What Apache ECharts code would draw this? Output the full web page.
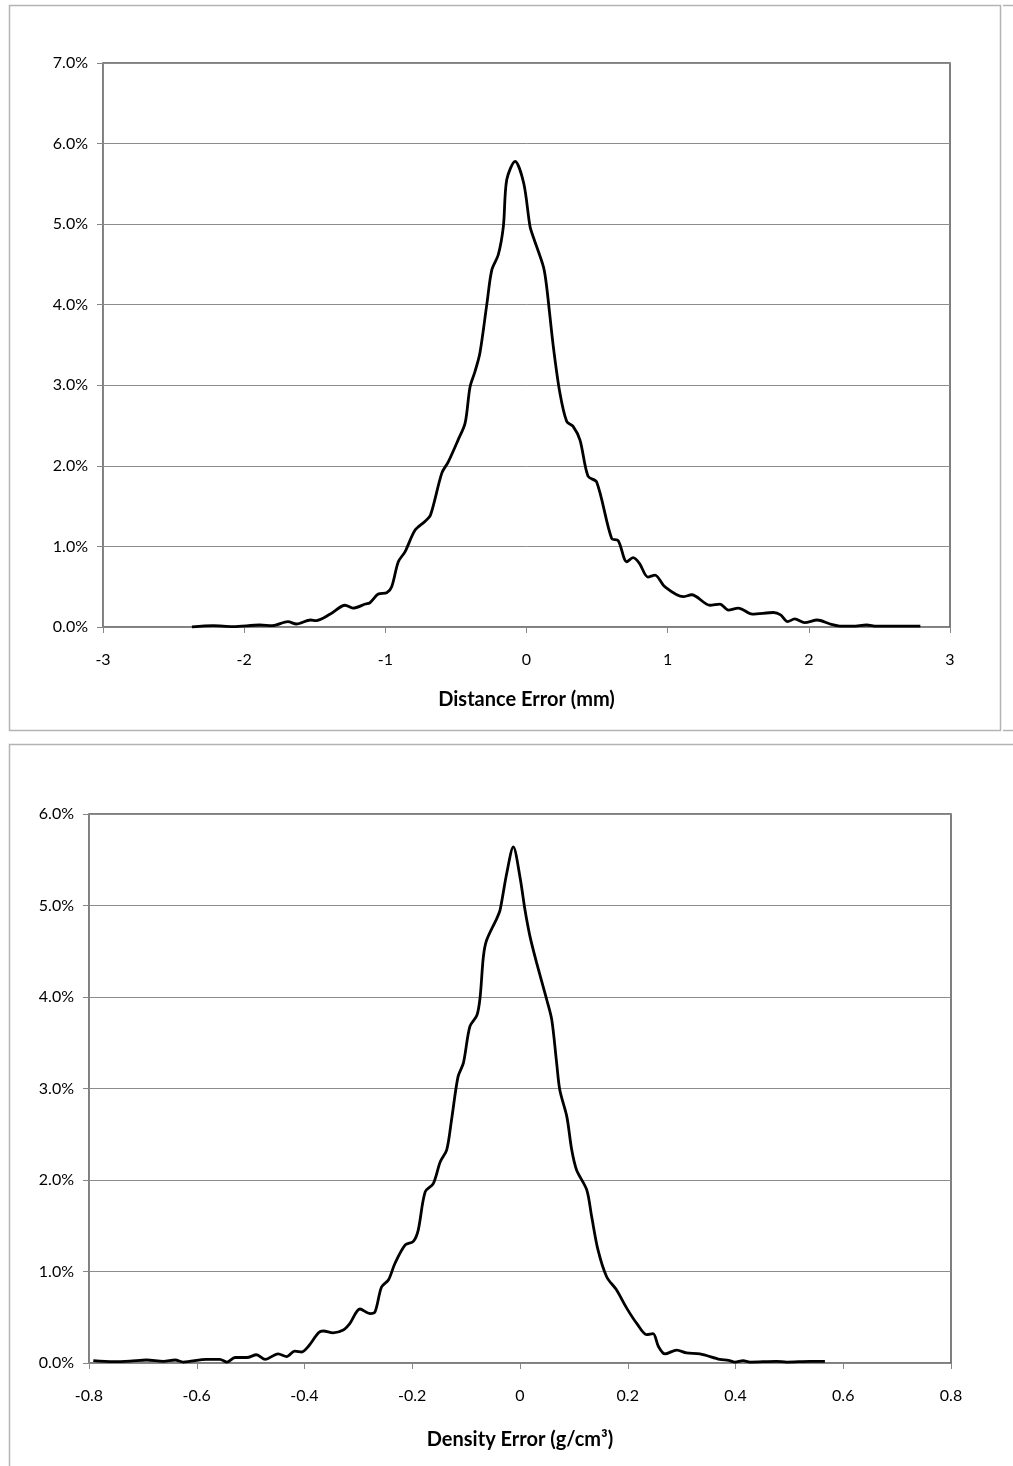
<!DOCTYPE html>
<html>
<head>
<meta charset="utf-8">
<script src="https://cdn.jsdelivr.net/npm/echarts@6/dist/echarts.min.js"></script>
<style>
html,body{margin:0;padding:0;background:#fff;}
#chart{width:1013px;height:1466px;}
</style>
</head>
<body>
<div id="chart"></div>
<script>
// ---- Data: top chart (Distance Error, mm) ----
const distX = [-2.37,-2.22,-2.08,-1.89,-1.80,-1.69,-1.63,-1.53,-1.49,-1.39,-1.285,-1.23,-1.14,-1.11,-1.05,-0.99,-0.955,-0.908,-0.86,-0.79,-0.72,-0.68,-0.60,-0.554,-0.485,-0.435,-0.40,-0.365,-0.33,-0.28,-0.246,-0.2,-0.164,-0.14,-0.081,-0.02,0.025,0.048,0.12,0.143,0.19,0.237,0.285,0.33,0.379,0.436,0.497,0.603,0.65,0.71,0.755,0.80,0.86,0.91,0.98,1.11,1.17,1.30,1.37,1.43,1.50,1.60,1.75,1.80,1.85,1.90,1.97,2.06,2.15,2.22,2.31,2.41,2.48,2.79];
const distPct = [0,0.016,0.005,0.025,0.016,0.066,0.037,0.087,0.08,0.16,0.27,0.235,0.285,0.30,0.41,0.425,0.50,0.81,0.935,1.20,1.31,1.39,1.91,2.05,2.32,2.53,2.98,3.17,3.40,4.02,4.43,4.62,4.97,5.55,5.78,5.51,4.97,4.84,4.47,4.22,3.48,2.90,2.55,2.49,2.32,1.87,1.80,1.10,1.07,0.81,0.86,0.79,0.62,0.645,0.50,0.376,0.40,0.27,0.285,0.21,0.235,0.16,0.18,0.15,0.066,0.10,0.054,0.087,0.037,0.012,0.01,0.025,0.01,0.01];

// ---- Data: bottom chart (Density Error, g/cm3) ----
const densX = [-0.792,-0.755,-0.724,-0.693,-0.662,-0.640,-0.625,-0.582,-0.557,-0.544,-0.529,-0.507,-0.489,-0.473,-0.449,-0.433,-0.418,-0.405,-0.393,-0.374,-0.365,-0.347,-0.328,-0.316,-0.297,-0.278,-0.269,-0.257,-0.244,-0.232,-0.213,-0.198,-0.189,-0.176,-0.161,-0.148,-0.136,-0.127,-0.115,-0.105,-0.093,-0.080,-0.074,-0.068,-0.062,-0.043,-0.037,-0.0247,-0.0124,0,0.0093,0.0186,0.031,0.0496,0.059,0.068,0.074,0.087,0.096,0.105,0.124,0.133,0.145,0.161,0.179,0.198,0.217,0.235,0.247,0.257,0.269,0.291,0.309,0.334,0.371,0.387,0.399,0.414,0.427,0.476,0.495,0.538,0.566];
const densPct = [0.025,0.014,0.02,0.033,0.018,0.033,0.01,0.04,0.04,0.01,0.06,0.06,0.09,0.04,0.10,0.07,0.13,0.12,0.18,0.33,0.35,0.33,0.36,0.43,0.59,0.54,0.56,0.83,0.91,1.09,1.29,1.33,1.45,1.87,1.96,2.20,2.33,2.66,3.13,3.28,3.68,3.80,4.00,4.44,4.62,4.86,4.95,5.35,5.64,5.31,4.95,4.66,4.37,3.97,3.75,3.28,2.98,2.69,2.33,2.11,1.89,1.60,1.23,0.94,0.80,0.60,0.43,0.31,0.32,0.18,0.10,0.14,0.11,0.10,0.04,0.03,0.01,0.025,0.01,0.018,0.01,0.018,0.018];

// ---- Axis ranges / labels ----
const topXRange = [-3, 3, 1];
const topYRange = [0, 7, 1];
const botXRange = [-0.8, 0.8, 0.2];
const botYRange = [0, 6, 1];
const topXName = 'Distance Error (mm)';
const botXName = 'Density Error (g/cm³)';

const FONT = 'Lato, "Open Sans", sans-serif';
const pairs = (xs, ys) => xs.map((x, i) => [x, ys[i]]);

const chart = echarts.init(document.getElementById('chart'), null, {renderer: 'canvas'});

function xAxisCfg(gridIndex, range, name, gap, fmt) {
  return {
    type: 'value', gridIndex, min: range[0], max: range[1], interval: range[2],
    name, nameLocation: 'middle', nameGap: gap,
    nameTextStyle: {fontFamily: FONT, fontSize: 20, fontWeight: 'bold', color: '#000'},
    axisLine: {show: true, onZero: false, lineStyle: {color: '#868686', width: 1}},
    axisTick: {show: true, inside: false, length: 6, lineStyle: {color: '#868686'}},
    axisLabel: {fontFamily: FONT, fontSize: 16, color: '#000', margin: 25, formatter: fmt},
    splitLine: {show: false}
  };
}
function yAxisCfg(gridIndex, range) {
  return {
    type: 'value', gridIndex, min: range[0], max: range[1], interval: range[2],
    axisLine: {show: true, onZero: false, lineStyle: {color: '#868686', width: 1}},
    axisTick: {show: true, inside: false, length: 6, lineStyle: {color: '#868686'}},
    axisLabel: {fontFamily: FONT, fontSize: 16, color: '#000', margin: 15,
      formatter: v => v.toFixed(1) + '%'},
    splitLine: {show: true, lineStyle: {color: '#8c8c8c', width: 1}}
  };
}

const panelLine = {stroke: '#b4b4b4', lineWidth: 1.5};

chart.setOption({
  animation: false,
  backgroundColor: '#fff',
  grid: [
    {left: 103, top: 63, width: 847, height: 564, show: true, borderColor: '#555', borderWidth: 1.5, backgroundColor: 'transparent'},
    {left: 89, top: 814, width: 862, height: 549, show: true, borderColor: '#555', borderWidth: 1.5, backgroundColor: 'transparent'}
  ],
  xAxis: [
    xAxisCfg(0, topXRange, topXName, 63, v => String(Math.round(v))),
    xAxisCfg(1, botXRange, botXName, 67, v => (Math.abs(v) < 1e-9 ? '0' : String(Math.round(v * 10) / 10)))
  ],
  yAxis: [yAxisCfg(0, topYRange), yAxisCfg(1, botYRange)],
  series: [
    {type: 'line', xAxisIndex: 0, yAxisIndex: 0, data: pairs(distX, distPct), smooth: 0.3,
      showSymbol: false, lineStyle: {color: '#000', width: 2.8}},
    {type: 'line', xAxisIndex: 1, yAxisIndex: 1, data: pairs(densX, densPct), smooth: 0.3,
      showSymbol: false, lineStyle: {color: '#000', width: 2.8}}
  ],
  graphic: [
    {type: 'rect', shape: {x: 9.5, y: 5.5, width: 991, height: 725}, style: Object.assign({fill: 'none'}, panelLine), silent: true},
    {type: 'line', shape: {x1: 1003, y1: 5.5, x2: 1013, y2: 5.5}, style: panelLine, silent: true},
    {type: 'line', shape: {x1: 1003, y1: 730.5, x2: 1013, y2: 730.5}, style: panelLine, silent: true},
    {type: 'polyline', shape: {points: [[9.5, 1470], [9.5, 744.5], [1015, 744.5]]}, style: Object.assign({fill: 'none'}, panelLine), silent: true}
  ]
});
</script>
</body>
</html>
